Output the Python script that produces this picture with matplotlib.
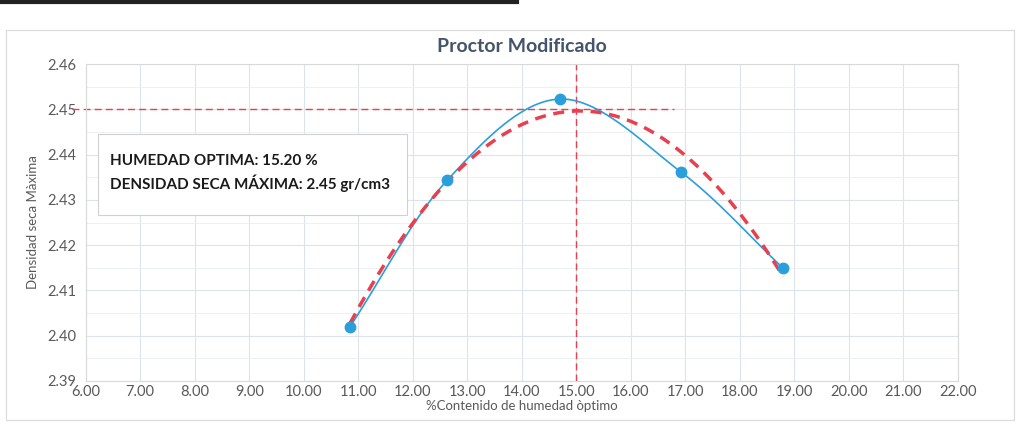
import numpy as np
import matplotlib
matplotlib.use("Agg")
import matplotlib.pyplot as plt
from matplotlib.patches import Rectangle
from matplotlib.lines import Line2D

# Proctor test points (water content %, dry density)
humedad = [10.85, 12.63, 14.70, 16.92, 18.80]
densidad = [2.402, 2.4343, 2.4523, 2.4362, 2.4149]

# optimum values marked on the chart
hum_optima = 15.0
dens_maxima = 2.45
h_line_x = [5.75, 16.8]

x_ticks = [6, 7, 8, 9, 10, 11, 12, 13, 14, 15, 16, 17, 18, 19, 20, 21, 22]
y_ticks = [2.39, 2.40, 2.41, 2.42, 2.43, 2.44, 2.45, 2.46]

FONT = ["Lato", "DejaVu Sans"]
GRAY = "#595959"
BLUE = "#2A9FDB"
RED = "#E8404F"


def catmull_rom(xs, ys, sx, sy, n=30):
    """Smoothed line through points, like Excel's 'smoothed line'."""
    p = np.column_stack([np.asarray(xs) / sx, np.asarray(ys) / sy])
    p = np.vstack([2 * p[0] - p[1], p, 2 * p[-1] - p[-2]])
    out = []
    for i in range(1, len(p) - 2):
        p0, p1, p2, p3 = p[i - 1], p[i], p[i + 1], p[i + 2]
        t = np.linspace(0, 1, n)[:, None]
        seg = 0.5 * ((2 * p1) + (-p0 + p2) * t
                     + (2 * p0 - 5 * p1 + 4 * p2 - p3) * t ** 2
                     + (-p0 + 3 * p1 - 3 * p2 + p3) * t ** 3)
        out.append(seg)
    out = np.vstack(out)
    return out[:, 0] * sx, out[:, 1] * sy


fig = plt.figure(figsize=(10.33, 4.28), dpi=100)
ax = fig.add_axes([0.083, 0.11, 0.844, 0.74])

ax.set_xlim(6, 22)
ax.set_ylim(2.39, 2.46)
ax.set_xticks(x_ticks)
ax.set_yticks(y_ticks)
ax.set_xticklabels([f"{v:.2f}" for v in x_ticks])
ax.set_yticklabels([f"{v:.2f}" for v in y_ticks])
ax.set_yticks(np.arange(2.395, 2.46, 0.01), minor=True)
ax.tick_params(which="both", length=0)
ax.tick_params(labelsize=10.5, labelcolor=GRAY)
ax.tick_params(axis="x", pad=3)
ax.tick_params(axis="y", pad=7)
for lab in ax.get_xticklabels() + ax.get_yticklabels():
    lab.set_family(FONT)

ax.grid(which="major", color="#DCE3EA", lw=0.8)
ax.grid(which="minor", axis="y", color="#EBEFF3", lw=0.6)
ax.set_axisbelow(True)
for s in ax.spines.values():
    s.set_color("#D9D9D9")
    s.set_linewidth(0.8)

# reference lines
ax.plot([hum_optima, hum_optima], [2.39, 2.46], color=RED, lw=1.0,
        dashes=(5, 3), zorder=2)
ax.plot(h_line_x, [dens_maxima, dens_maxima], color=RED, lw=1.0,
        dashes=(5, 3), clip_on=False, zorder=2)

# smoothed data line
sx, sy = catmull_rom(humedad, densidad, 16.0, 0.07)
ax.plot(sx, sy, color=BLUE, lw=1.2, zorder=3)
ax.plot(humedad, densidad, "o", color=BLUE, ms=7.5, mec=BLUE, zorder=4)

# polynomial trendline
coef = np.polyfit(humedad, densidad, 2)
xt = np.linspace(min(humedad), max(humedad), 200)
ax.plot(xt, np.polyval(coef, xt), color=RED, lw=2.5, dashes=(3.2, 2.2), zorder=3)

# text box
ax.add_patch(Rectangle((0.014, 0.525), 0.355, 0.255, transform=ax.transAxes,
                       facecolor="white", edgecolor="#D0D0D0", lw=0.8, zorder=5))
ax.text(0.028, 0.695, "HUMEDAD OPTIMA: 15.20 %", transform=ax.transAxes,
        fontsize=11, fontweight="bold", family=FONT, color="#1A1A1A",
        va="center", zorder=6)
ax.text(0.028, 0.625, "DENSIDAD SECA MÁXIMA: 2.45 gr/cm3", transform=ax.transAxes,
        fontsize=11, fontweight="bold", family=FONT, color="#1A1A1A",
        va="center", zorder=6)

ax.set_title("Proctor Modificado", fontsize=14, fontweight="bold",
             family=FONT, color="#44546A", pad=9)
ax.set_xlabel("%Contenido de humedad òptimo", fontsize=9.5, family=FONT,
              color=GRAY, labelpad=1)
ax.set_ylabel("Densidad seca Màxima", fontsize=9.5, family=FONT,
              color=GRAY, labelpad=6)

# chart area border and the table edge at the top of the scan
fig.patches.append(Rectangle((0.006, 0.018), 0.976, 0.912, transform=fig.transFigure,
                             fill=False, edgecolor="#DADADA", lw=0.8))
fig.lines.append(Line2D([0.0, 0.5], [0.996, 0.996], transform=fig.transFigure,
                        color="#222222", lw=3))

fig.savefig("out.png", dpi=100)
